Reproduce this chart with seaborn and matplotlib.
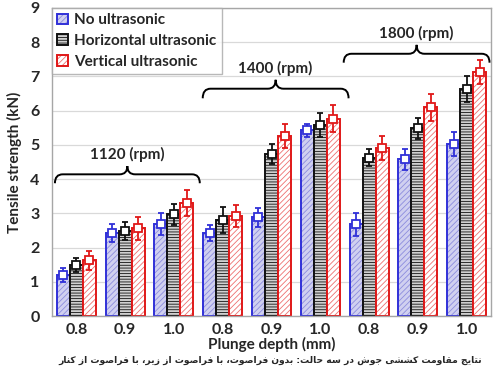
import matplotlib
matplotlib.use("Agg")
import matplotlib.pyplot as plt
from matplotlib.colors import to_rgba
from matplotlib.path import Path
from matplotlib.patches import PathPatch
import seaborn as sns
import pandas as pd

# data
speeds = [1120, 1120, 1120, 1400, 1400, 1400, 1800, 1800, 1800]
depths = ["0.8", "0.9", "1.0", "0.8", "0.9", "1.0", "0.8", "0.9", "1.0"]
series_names = ["No ultrasonic", "Horizontal ultrasonic", "Vertical ultrasonic"]
no_us = [1.20, 2.42, 2.68, 2.42, 2.88, 5.42, 2.68, 4.58, 5.03]
horiz = [1.50, 2.48, 2.97, 2.80, 4.73, 5.58, 4.62, 5.48, 6.63]
vert = [1.63, 2.56, 3.29, 2.92, 5.26, 5.77, 4.92, 6.10, 7.13]
no_err = [0.20, 0.27, 0.32, 0.23, 0.27, 0.20, 0.33, 0.30, 0.35]
h_err = [0.20, 0.27, 0.30, 0.38, 0.30, 0.35, 0.25, 0.30, 0.38]
v_err = [0.27, 0.33, 0.38, 0.33, 0.35, 0.40, 0.35, 0.40, 0.35]
speed_labels = ["1120 (rpm)", "1400 (rpm)", "1800 (rpm)"]
caption = "نتایج مقاومت کششی جوش در سه حالت: بدون فراصوت، با فراصوت از زیر، با فراصوت از کنار"

# isolated, final, initial, medial
FORMS = {
    "ا": ("\uFE8D", "\uFE8E", None, None),
    "ب": ("\uFE8F", "\uFE90", "\uFE91", "\uFE92"),
    "ت": ("\uFE95", "\uFE96", "\uFE97", "\uFE98"),
    "ج": ("\uFE9D", "\uFE9E", "\uFE9F", "\uFEA0"),
    "ح": ("\uFEA1", "\uFEA2", "\uFEA3", "\uFEA4"),
    "د": ("\uFEA9", "\uFEAA", None, None),
    "ر": ("\uFEAD", "\uFEAE", None, None),
    "ز": ("\uFEAF", "\uFEB0", None, None),
    "س": ("\uFEB1", "\uFEB2", "\uFEB3", "\uFEB4"),
    "ش": ("\uFEB5", "\uFEB6", "\uFEB7", "\uFEB8"),
    "ص": ("\uFEB9", "\uFEBA", "\uFEBB", "\uFEBC"),
    "ف": ("\uFED1", "\uFED2", "\uFED3", "\uFED4"),
    "ق": ("\uFED5", "\uFED6", "\uFED7", "\uFED8"),
    "ل": ("\uFEDD", "\uFEDE", "\uFEDF", "\uFEE0"),
    "م": ("\uFEE1", "\uFEE2", "\uFEE3", "\uFEE4"),
    "ن": ("\uFEE5", "\uFEE6", "\uFEE7", "\uFEE8"),
    "ه": ("\uFEE9", "\uFEEA", "\uFEEB", "\uFEEC"),
    "و": ("\uFEED", "\uFEEE", None, None),
    "ی": ("\uFBFC", "\uFBFD", "\uFBFE", "\uFBFF"),
    "ک": ("\uFB8E", "\uFB8F", "\uFB90", "\uFB91"),
}


def shape_rtl(text):
    out = []
    for i, c in enumerate(text):
        if c not in FORMS:
            out.append(c)
            continue
        prev = text[i - 1] if i > 0 else ""
        nxt = text[i + 1] if i + 1 < len(text) else ""
        jp = prev in FORMS and FORMS[prev][2] is not None
        jn = FORMS[c][2] is not None and nxt in FORMS
        iso, fin, ini, med = FORMS[c]
        if jp and jn:
            out.append(med)
        elif jp:
            out.append(fin)
        elif jn:
            out.append(ini)
        else:
            out.append(iso)
    return "".join(out)[::-1]


def brace(ax, x0, x1, yb, yl, yt, r=0.16):
    xm = (x0 + x1) / 2
    verts = [(x0, yb), (x0, yl), (x0 + r, yl),
             (xm - r, yl),
             (xm, yl), (xm, yt),
             (xm, yl), (xm + r, yl),
             (x1 - r, yl),
             (x1, yl), (x1, yb)]
    codes = [Path.MOVETO, Path.CURVE3, Path.CURVE3,
             Path.LINETO,
             Path.CURVE3, Path.CURVE3,
             Path.CURVE3, Path.CURVE3,
             Path.LINETO,
             Path.CURVE3, Path.CURVE3]
    ax.add_patch(PathPatch(Path(verts, codes), fill=False, lw=1.4,
                           edgecolor="black", clip_on=False, zorder=5))


conds = [f"{s}-{d}" for s, d in zip(speeds, depths)]
df = pd.DataFrame({
    "cond": conds * 3,
    "series": sum([[n] * len(conds) for n in series_names], []),
    "value": no_us + horiz + vert,
})

sns.set_theme(style="white")
plt.rcParams["font.family"] = ["Lato", "DejaVu Sans"]
plt.rcParams["hatch.linewidth"] = 0.6

fig = plt.figure(figsize=(5, 3.75), dpi=100)
ax = fig.add_axes([0.104, 0.157, 0.878, 0.822])

sns.barplot(data=df, x="cond", y="value", hue="series", order=conds,
            hue_order=series_names, errorbar=None, width=0.8, gap=0,
            legend=False, ax=ax, zorder=2)
bar_conts = list(ax.containers)

edge_cols = ["#3030d8", "#111111", "#e01818"]
face_cols = ["#d0d0f0", "#d0d0d0", "#ffffff"]
hatch_cols = ["#8c8cde", "#111111", "#ee7070"]
hatches = ["//////", "------", "//////"]
errs = [no_err, h_err, v_err]
vals = [no_us, horiz, vert]
for cont, ec, fc, hc, h, e, v in zip(bar_conts, edge_cols, face_cols, hatch_cols,
                                     hatches, errs, vals):
    xs = []
    for bar in cont.patches:
        bar.set_facecolor(fc)
        bar.set_edgecolor(ec)
        bar.set_hatch(h)
        bar._hatch_color = to_rgba(hc)
        bar.set_linewidth(1.4)
        xs.append(bar.get_x() + bar.get_width() / 2)
    ax.errorbar(xs, v, yerr=e, fmt="s", color=ec, mfc="white", mec=ec,
                ms=6, mew=1.3, elinewidth=1.3, capsize=2.5, capthick=1.3, zorder=4)

ax.set_ylim(0, 9)
ax.set_xlim(-0.5, len(conds) - 0.5)
ax.set_yticks(range(10))
ax.yaxis.grid(True, color="#d9d9d9", lw=0.9)
ax.set_axisbelow(True)
for sp in ax.spines.values():
    sp.set_color("#a6a6a6")
    sp.set_linewidth(1.0)
ax.set_xticks(range(len(conds)))
ax.set_xticklabels(depths)
ax.tick_params(axis="both", labelsize=11.5, length=0, pad=5)
ax.tick_params(axis="y", pad=9)
for lab in ax.get_xticklabels() + ax.get_yticklabels():
    lab.set_fontweight("bold")
ax.set_xlabel("Plunge depth (mm)", fontsize=11, fontweight="bold", labelpad=0)
ax.set_ylabel("Tensile strength (kN)", fontsize=11, fontweight="bold", labelpad=6)

# rpm braces
brace_pos = [(-0.44, 2.53, 3.88, 4.14, 4.38),
             (2.59, 5.58, 6.36, 6.64, 6.90),
             (5.48, 8.47, 7.40, 7.66, 7.92)]
for (x0, x1, yb, yl, yt), lab in zip(brace_pos, speed_labels):
    brace(ax, x0, x1, yb, yl, yt)
    ax.text((x0 + x1) / 2, yt + 0.12, lab, ha="center", va="bottom",
            fontsize=11, fontweight="bold")

handles = [c.patches[0] for c in bar_conts]
leg = ax.legend(handles, series_names, loc="upper left", borderaxespad=0,
                frameon=True, fancybox=False, edgecolor="#a6a6a6",
                handlelength=0.7, handleheight=0.7, handletextpad=0.4,
                labelspacing=0.45, borderpad=0.35, prop={"weight": "bold", "size": 11})
leg.get_frame().set_linewidth(1.0)
for lh, hc in zip(leg.legend_handles, hatch_cols):
    lh._hatch_color = to_rgba(hc)

fig.text(0.54, 0.04, shape_rtl(caption), ha="center", va="center",
         fontsize=6.6, fontweight="bold", family=["DejaVu Sans"])

fig.savefig("out.png", dpi=100)
